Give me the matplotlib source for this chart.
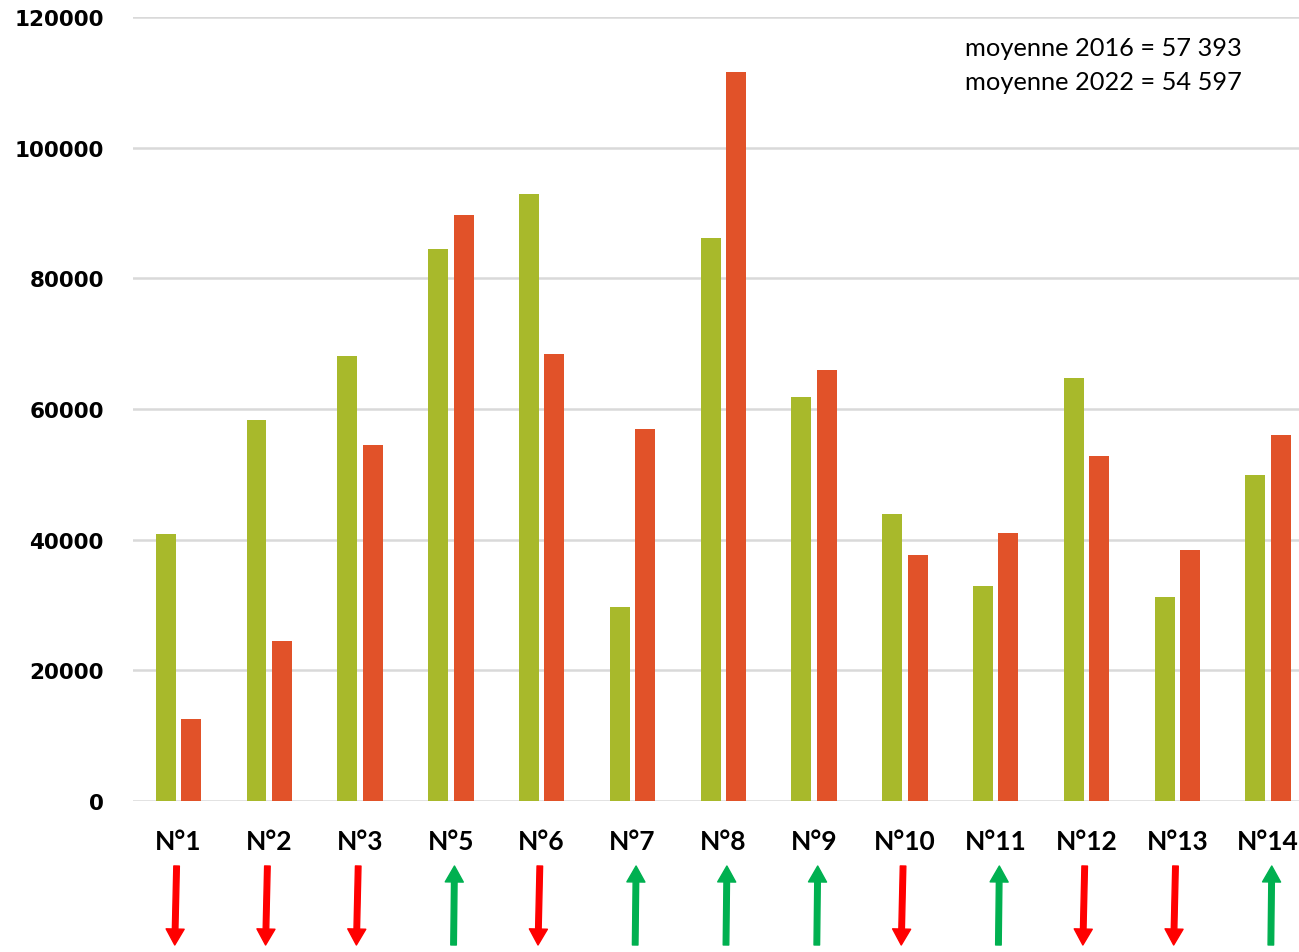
import matplotlib
matplotlib.use("Agg")
import matplotlib.pyplot as plt
import matplotlib.transforms as mtransforms
import numpy as np

categories = ["N°1", "N°2", "N°3", "N°5", "N°6", "N°7", "N°8", "N°9",
              "N°10", "N°11", "N°12", "N°13", "N°14"]
values_2016 = [40900, 58300, 68100, 84500, 92900, 29700, 86200, 61800,
               43900, 32900, 64700, 31200, 49900]
values_2022 = [12500, 24500, 54500, 89700, 68400, 56900, 111600, 66000,
               37700, 41000, 52800, 38400, 56000]
# trend marker shown under each category (+1 up, -1 down)
trends = [-1, -1, -1, 1, -1, 1, 1, 1, -1, 1, -1, -1, 1]
mean_2016 = "57 393"
mean_2022 = "54 597"
yticks = [0, 20000, 40000, 60000, 80000, 100000, 120000]

GREEN = "#A8B92B"
ORANGE = "#E15229"
UP = "#00B050"
DOWN = "#FF0000"

plt.rcParams["font.family"] = ["Lato", "DejaVu Sans"]

W, H = 1299, 953
fig = plt.figure(figsize=(W / 100, H / 100), dpi=100)
ax = fig.add_axes([133 / W, 1 - 802 / H, 1 - 133 / W, (802 - 18) / H])

x = np.arange(len(categories))
bw = 0.22
gap = 0.06
ax.bar(x - (bw + gap) / 2, values_2016, width=bw, color=GREEN, zorder=3)
ax.bar(x + (bw + gap) / 2, values_2022, width=bw, color=ORANGE, zorder=3)

ax.set_xlim(-0.5, 12.34)
ax.set_ylim(0, 120000)
ax.set_yticks(yticks)
ax.set_yticklabels([str(v) for v in yticks], fontsize=15.5, fontweight="bold",
                   family=["DejaVu Sans"])
ax.set_xticks(x)
ax.set_xticklabels(categories, fontsize=19, fontweight="bold")
ax.tick_params(axis="y", length=0, pad=21)
ax.tick_params(axis="x", length=0, pad=20)
ax.grid(axis="y", color="#D9D9D9", linewidth=1.8, zorder=0)
for s in ax.spines.values():
    s.set_visible(False)

# Trend arrows below each category
trans = mtransforms.blended_transform_factory(ax.transData, fig.transFigure)
top_y = 1 - 867 / H
bot_y = 1 - 946 / H
for xi, t in zip(x, trends):
    if t > 0:
        start, end, col = (xi + 0.03, bot_y), (xi + 0.04, top_y), UP
    else:
        start, end, col = (xi - 0.02, top_y), (xi - 0.04, bot_y), DOWN
    ax.annotate("", xy=end, xycoords=trans, xytext=start, textcoords=trans,
                arrowprops=dict(arrowstyle="simple,head_length=1.15,head_width=1.3,tail_width=0.4",
                                color=col, shrinkA=0, shrinkB=0, mutation_scale=10),
                annotation_clip=False)

fig.text(965 / W, 1 - 48 / H, f"moyenne 2016 = {mean_2016}", fontsize=18.3,
         va="center", ha="left")
fig.text(965 / W, 1 - 83 / H, f"moyenne 2022 = {mean_2022}", fontsize=18.3,
         va="center", ha="left")

fig.savefig("out.png", dpi=100)
